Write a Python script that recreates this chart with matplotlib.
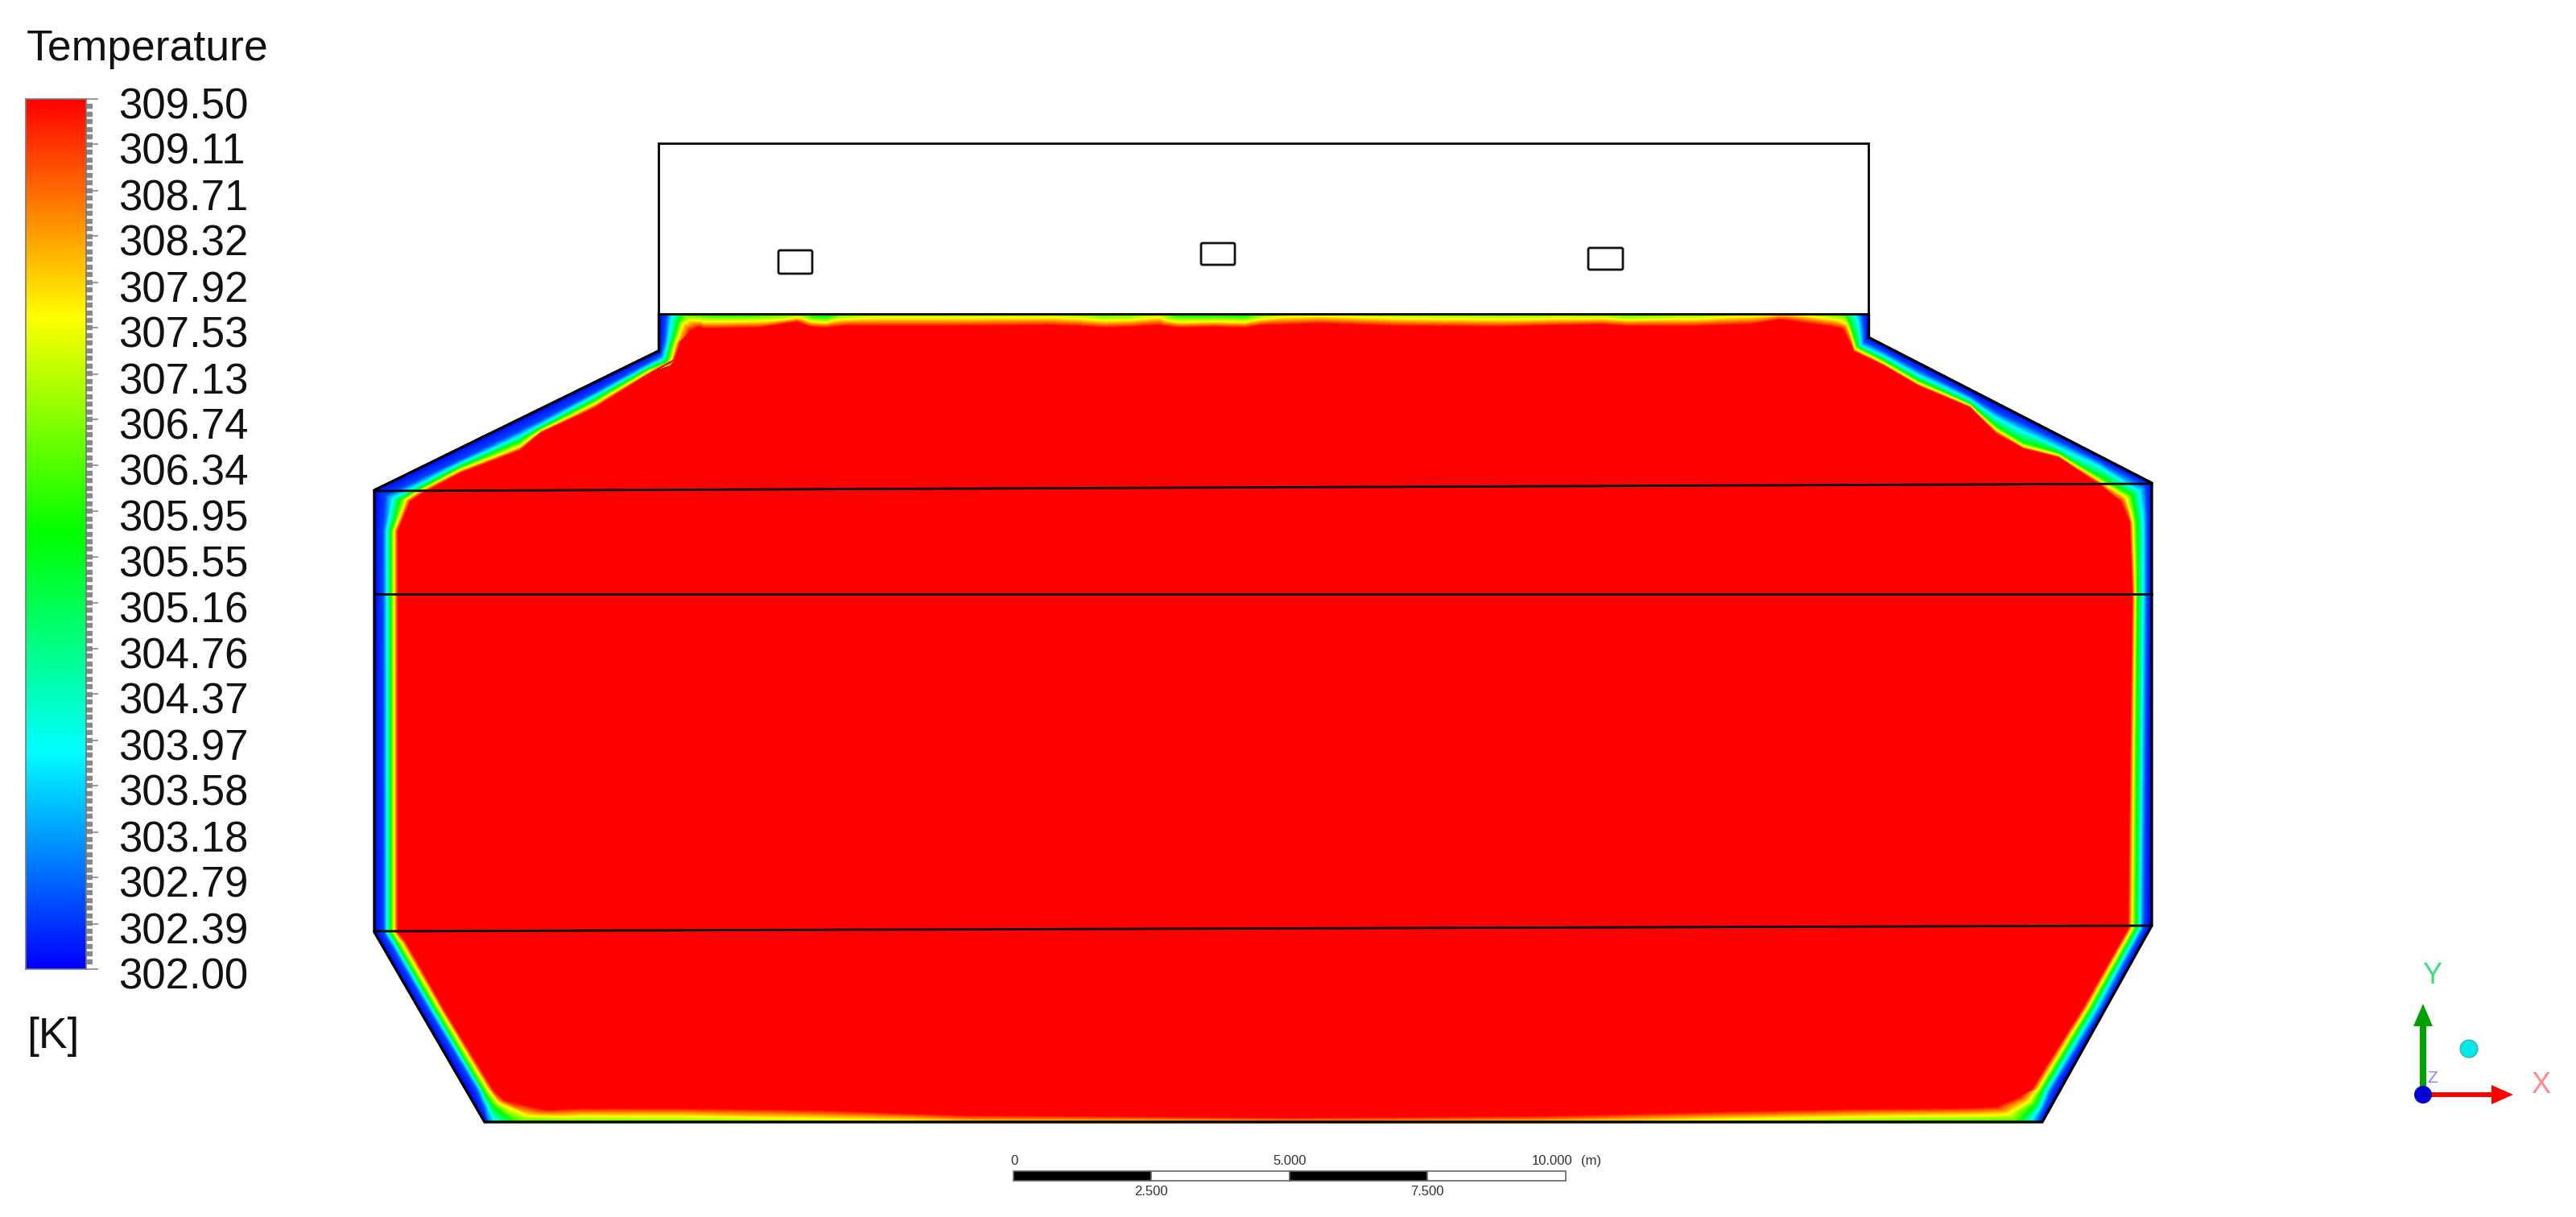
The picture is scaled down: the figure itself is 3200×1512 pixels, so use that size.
import numpy as np
import matplotlib
matplotlib.use("Agg")
import matplotlib.pyplot as plt
from matplotlib.colors import LinearSegmentedColormap
from matplotlib.patches import Polygon, Rectangle, Circle, FancyBboxPatch
from matplotlib.transforms import ScaledTranslation
from matplotlib.tri import Triangulation

plt.rcParams['font.family'] = ['Liberation Sans', 'DejaVu Sans']

W, H = 3200, 1512

# legend
tick_labels = ['309.50', '309.11', '308.71', '308.32', '307.92', '307.53', '307.13',
               '306.74', '306.34', '305.95', '305.55', '305.16', '304.76', '304.37',
               '303.97', '303.58', '303.18', '302.79', '302.39', '302.00']
T_MIN, T_MAX = 302.0, 309.5

# temperature of each contour, wall to core
ring_temps = [302.0, 302.5, 303.875, 305.75, 307.625, 309.5]

# contours: one (x, y) per station, wall -> core
left_wall = [(819, 390), (818, 400), (818, 427), (818, 436), (807, 441), (740, 474), (673, 507), (647, 519),
             (573, 555), (517, 583), (465, 608), (465, 660), (465, 1158), (472, 1170), (520, 1253), (580, 1353),
             (591, 1375), (602, 1394)]
left_blue = [(829, 390), (827, 400), (825, 427), (821, 442), (807, 450), (740, 487), (673, 522), (647, 535),
             (573, 571), (517, 598), (479, 616), (476, 660), (477, 1158), (484, 1170), (532, 1253), (592, 1353),
             (601, 1375), (606, 1394)]
left_cyan = [(836, 390), (834, 400), (830, 427), (825, 446), (807, 455), (740, 492), (673, 528), (647, 542),
             (573, 576), (517, 605), (488, 620), (481, 660), (481, 1158), (489, 1170), (537, 1253), (597, 1353),
             (607, 1375), (616, 1394)]
left_green = [(848, 390), (843, 400), (835, 427), (829, 449), (807, 458), (740, 497), (673, 532), (647, 548),
              (573, 580), (517, 610), (497, 622), (486, 660), (486, 1158), (493, 1170), (541, 1253), (600, 1353),
              (612, 1372), (640, 1394)]
left_yellow = [(858, 397), (849, 403), (840, 427), (833, 453), (807, 462), (740, 502), (673, 535), (647, 555),
               (573, 584), (517, 613), (505, 621), (490, 660), (490, 1158), (499, 1170), (547, 1253), (607, 1353),
               (620, 1370), (660, 1387)]
left_red = [(870, 407), (858, 412), (846, 425), (838, 447), (807, 465), (740, 507), (673, 538), (647, 560),
            (573, 588), (523, 615), (510, 624), (495, 660), (495, 1158), (505, 1170), (552, 1253), (613, 1353),
            (627, 1366), (680, 1378)]

right_wall = [(2537, 1394), (2548, 1375), (2560, 1353), (2616, 1253), (2671, 1153), (2673, 737), (2673, 650),
              (2673, 600), (2607, 566), (2557, 540), (2513, 518), (2480, 501), (2447, 484), (2383, 451),
              (2340, 429), (2321, 419), (2321, 403), (2321, 390)]
right_blue = [(2532, 1394), (2540, 1375), (2549, 1353), (2610, 1253), (2663, 1153), (2667, 737), (2667, 650),
              (2665, 604), (2607, 573), (2557, 548), (2513, 527), (2480, 512), (2447, 492), (2383, 460),
              (2340, 437), (2316, 425), (2315, 403), (2313, 390)]
right_cyan = [(2522, 1394), (2534, 1375), (2543, 1353), (2603, 1253), (2658, 1153), (2662, 737), (2662, 650),
              (2657, 611), (2607, 580), (2557, 557), (2513, 537), (2480, 520), (2447, 497), (2383, 467),
              (2340, 443), (2311, 430), (2308, 403), (2303, 390)]
right_green = [(2508, 1394), (2528, 1372), (2537, 1353), (2597, 1253), (2653, 1153), (2655, 737), (2654, 650),
               (2648, 616), (2607, 592), (2557, 563), (2513, 550), (2480, 530), (2447, 502), (2383, 473),
               (2340, 448), (2307, 431), (2298, 403), (2292, 390)]
right_yellow = [(2494, 1384), (2520, 1368), (2531, 1353), (2592, 1253), (2648, 1153), (2652, 737), (2649, 650),
                (2640, 618), (2607, 597), (2557, 566), (2513, 555), (2480, 535), (2447, 504), (2383, 477),
                (2340, 452), (2304, 434), (2294, 403), (2282, 398)]
right_red = [(2480, 1374), (2508, 1362), (2523, 1353), (2586, 1253), (2643, 1153), (2648, 737), (2645, 650),
             (2633, 623), (2607, 602), (2557, 569), (2513, 558), (2480, 540), (2447, 507), (2383, 480),
             (2340, 455), (2302, 437), (2289, 410), (2272, 406)]

# top wall of the fluid: x at the wall, wall temperature, point where it turns fully red
top_x = [848, 873, 940, 990, 1007, 1027, 1047, 1107, 1173, 1307, 1340, 1373, 1407, 1440, 1463, 1507, 1547, 1567,
         1607, 1640, 1673, 1740, 1860, 1940, 1990, 2023, 2107, 2173, 2210, 2240, 2292]
top_T = [305.75, 305.5, 305.5, 306.0, 305.0, 304.6, 306.0, 306.6, 306.6, 306.7, 306.4, 305.8, 306.0, 306.7, 305.1,
         305.1, 304.9, 305.9, 306.8, 307.0, 306.8, 306.4, 306.2, 306.3, 306.2, 305.7, 306.2, 306.9, 307.5, 307.2,
         305.75]
top_red_x = [870, 873, 940, 990, 1007, 1027, 1047, 1107, 1173, 1307, 1340, 1373, 1407, 1440, 1463, 1507, 1547, 1567,
             1607, 1640, 1673, 1740, 1860, 1940, 1990, 2023, 2107, 2173, 2210, 2240, 2272]
top_red = [407, 409, 408, 401, 407, 408, 406, 406, 406, 405, 406, 408, 407, 405, 408, 407, 408, 405,
           404, 403, 404, 406, 407, 405, 404, 406, 406, 404, 398, 402, 406]

# bottom wall
bot_x = [640, 720, 850, 1000, 1200, 1600, 1900, 2150, 2300, 2430, 2508]
bot_T = [305.75, 306.2, 306.3, 306.8, 307.6, 307.9, 307.7, 306.9, 306.4, 306.0, 305.75]
bot_red_x = [680, 720, 850, 1000, 1200, 1600, 1900, 2150, 2300, 2430, 2480]
bot_red = [1378, 1376, 1376, 1378, 1385, 1388, 1386, 1380, 1377, 1376, 1374]

# outlines
domain_x = [818, 465, 465, 602, 2537, 2673, 2673, 2321]
domain_y = [436, 609, 1158, 1394, 1394, 1150, 600, 419]
box_x = [818, 818, 2321, 2321]
box_y = [390, 178, 178, 390]
neck_y = 390
cut_lines = [((465, 610), (2673, 601)), ((465, 738), (2673, 738)), ((465, 1157), (2673, 1150))]
openings = [(967, 311, 42, 29), (1492, 302, 42, 27), (1973, 308, 43, 27)]

# scale bar
scale_x = [1259, 1430, 1602, 1773, 1945]
scale_top = ['0', '5.000', '10.000']
scale_top_x = [1260, 1602, 1928]
scale_bottom = ['2.500', '7.500']

cmap = LinearSegmentedColormap.from_list('ansys', ['#0000ff', '#00ffff', '#00ff00', '#ffff00', '#ff0000'], N=512)
levels = np.linspace(T_MIN, T_MAX, 151)


def draw_strip(ax, rings, temps):
    # rings and temps are n_rings x n_stations
    rings = np.array(rings, dtype=float)
    temps = np.array(temps, dtype=float)
    nr, ns = temps.shape
    tris = []
    for i in range(nr - 1):
        for j in range(ns - 1):
            a = i * ns + j
            b = a + 1
            c = a + ns
            d = c + 1
            tris.append([a, b, c])
            tris.append([b, d, c])
    tri = Triangulation(rings[:, :, 0].ravel(), rings[:, :, 1].ravel(), tris)
    ax.tricontourf(tri, temps.ravel(), levels=levels, cmap=cmap, vmin=T_MIN, vmax=T_MAX, zorder=2)


fig = plt.figure(figsize=(W / 100, H / 100), dpi=100, facecolor='white')
ax = fig.add_axes([0, 0, 1, 1])
ax.set_xlim(0, W)
ax.set_ylim(H, 0)
ax.axis('off')

# red core first, bands on top
top_edge = list(zip(top_red_x, top_red))
bot_edge = list(zip(bot_red_x, bot_red))
core = list(left_red) + bot_edge + list(right_red) + top_edge[::-1]
ax.add_patch(Polygon(core, closed=True, fc='#ff0000', ec='#ff0000', lw=1, zorder=1))

left_rings = [left_wall, left_blue, left_cyan, left_green, left_yellow, left_red]
right_rings = [right_wall, right_blue, right_cyan, right_green, right_yellow, right_red]
draw_strip(ax, left_rings, [[t] * len(left_wall) for t in ring_temps])
draw_strip(ax, right_rings, [[t] * len(right_wall) for t in ring_temps])

draw_strip(ax, [list(zip(top_x, [390] * len(top_x))), top_edge], [top_T, [T_MAX] * len(top_x)])
draw_strip(ax, [list(zip(bot_x, [1394] * len(bot_x))), bot_edge], [bot_T, [T_MAX] * len(bot_x)])

# outlines
ax.plot(domain_x, domain_y, color='black', lw=2.4, solid_joinstyle='miter', zorder=5)
ax.plot(box_x, box_y, color='black', lw=2.0, solid_joinstyle='miter', zorder=5)
ax.plot([box_x[0], box_x[-1]], [neck_y, neck_y], color='black', lw=2.0, zorder=5)
ax.plot([box_x[0], domain_x[0]], [neck_y, domain_y[0]], color='black', lw=2.4, zorder=5)
ax.plot([box_x[-1], domain_x[-1]], [neck_y, domain_y[-1]], color='black', lw=2.4, zorder=5)
for p0, p1 in cut_lines:
    ax.plot([p0[0], p1[0]], [p0[1], p1[1]], color='black', lw=2.0, zorder=5)
for x0, y0, w, h in openings:
    ax.add_patch(FancyBboxPatch((x0 + 2, y0 + 2), w - 4, h - 4, boxstyle='round,pad=2', fc='white',
                                ec='#111111', lw=2.0, zorder=5))

# legend
ax.text(33, 75, 'Temperature', fontsize=38.5, ha='left', va='baseline', color='#111111')
ax.text(33, 1302, '[K]', fontsize=38.5, ha='left', va='baseline', color='#111111')

cax = fig.add_axes([32 / W, (H - 1204) / H, 75 / W, 1081 / H])
grad = np.linspace(T_MAX, T_MIN, 512).reshape(-1, 1)
cax.imshow(grad, cmap=cmap, vmin=T_MIN, vmax=T_MAX, aspect='auto', extent=[0, 1, T_MIN, T_MAX])
cax.set_xticks([])
cax.yaxis.tick_right()
cax.set_yticks([float(t) for t in tick_labels], tick_labels)
cax.set_yticks(np.linspace(T_MIN, T_MAX, 115), minor=True)
cax.tick_params(axis='y', which='major', length=10.8, width=1.2, color='#888888', pad=18,
                labelsize=38, labelcolor='#111111')
cax.tick_params(axis='y', which='minor', length=5.8, width=4.6, color='#888888')
for s in cax.spines.values():
    s.set_color('#777777')
    s.set_linewidth(1.2)
offset = ScaledTranslation(0, -5 / 100, fig.dpi_scale_trans)
for lab in cax.get_yticklabels():
    lab.set_transform(lab.get_transform() + offset)

# scale bar
bar_top, bar_h = 1455, 12
for i in range(4):
    fc = 'black' if i % 2 == 0 else 'white'
    ax.add_patch(Rectangle((scale_x[i], bar_top), scale_x[i + 1] - scale_x[i], bar_h, fc=fc, ec='#666666',
                           lw=1.2, zorder=3))
for x, t in zip(scale_top_x, scale_top):
    ax.text(x, bar_top - 5, t, fontsize=12, ha='center', va='bottom', color='#333333')
ax.text(1977, bar_top - 5, '(m)', fontsize=12, ha='center', va='bottom', color='#333333')
for x, t in zip([scale_x[1], scale_x[3]], scale_bottom):
    ax.text(x, bar_top + bar_h + 6, t, fontsize=12, ha='center', va='top', color='#333333')

# axis triad
ox, oy = 3010, 1360
ax.add_patch(Polygon([(ox - 4, oy), (ox + 4, oy), (ox + 4, 1275), (ox + 12, 1275), (ox, 1247), (ox - 12, 1275),
                      (ox - 4, 1275)], fc='#00a000', ec='none', zorder=6))
ax.add_patch(Polygon([(ox, oy - 3), (3095, oy - 3), (3095, oy - 12), (3122, oy), (3095, oy + 12), (3095, oy + 3),
                      (ox, oy + 3)], fc='#ff0000', ec='none', zorder=6))
ax.text(3022, 1345, 'Z', fontsize=15, color='#8080ff', ha='center', va='baseline', family='Liberation Sans',
        zorder=5)
ax.add_patch(Circle((ox, oy), 11, fc='#0000d0', ec='none', zorder=7))
ax.add_patch(Circle((3067, 1303), 11, fc='#00e8e8', ec='#40a0a0', lw=0.8, zorder=6))
ax.text(3021, 1222, 'Y', fontsize=26, color='#3fdc80', ha='center', va='baseline', family='Liberation Sans')
ax.text(3156, 1358, 'X', fontsize=26, color='#ff8a8a', ha='center', va='baseline', family='Liberation Sans')

fig.savefig('out.png', dpi=100, facecolor='white')
